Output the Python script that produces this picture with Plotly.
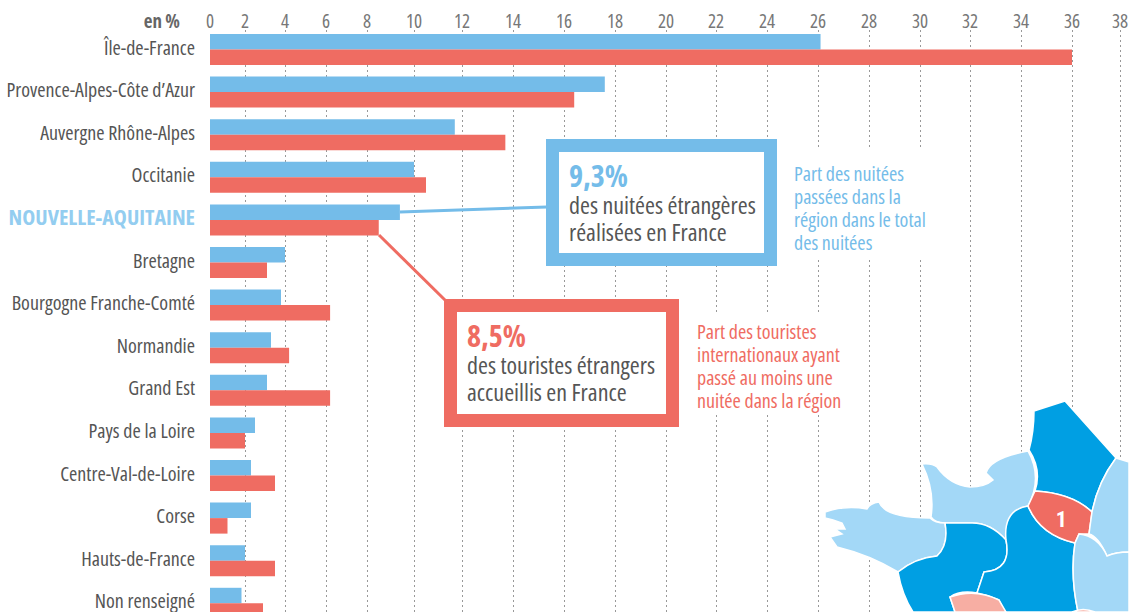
import numpy as np
import plotly.graph_objects as go

# ---- data -----------------------------------------------------------------
REGIONS = ["Île-de-France", "Provence-Alpes-Côte d’Azur", "Auvergne Rhône-Alpes", "Occitanie",
           "NOUVELLE-AQUITAINE", "Bretagne", "Bourgogne Franche-Comté", "Normandie", "Grand Est",
           "Pays de la Loire", "Centre-Val-de-Loire", "Corse", "Hauts-de-France", "Non renseigné"]
NUITEES = [26.1, 17.6, 11.7, 10.0, 9.4, 4.0, 3.8, 3.3, 3.1, 2.5, 2.3, 2.3, 2.0, 1.8]
TOURISTES = [36.0, 16.4, 13.7, 10.5, 8.5, 3.1, 6.2, 4.2, 6.2, 2.0, 3.5, 1.0, 3.5, 2.9]
TICKS = list(range(0, 40, 2))
# the printed axis is not linear: where each tick really falls, in px from the origin
TICK_SCALE = [0, 35, 75, 116, 157, 204, 252, 303, 354, 405, 456, 506, 557, 608, 659, 710, 760, 811, 862, 910]

BLUE = "#74bce9"
RED = "#ef6c62"
GREY = "#555555"
FONT = "Open Sans, Roboto, sans-serif"

def scale(v):
    return np.interp(v, TICKS, TICK_SCALE)

# ---- map outlines (image px) ----------------------------------------------
MAP_DARK = "#009fe3"
MAP_LIGHT = "#a3d8f7"
MAP_PALE = "#f7aea3"
MAP = [
    (MAP_DARK, "M1034,411 L1065,401 L1116,458 Q1098,482 1092,512 Q1072,493 1035,491 Q1042,470 1029,450 Q1034,432 1034,411 Z"),
    (MAP_LIGHT, "M922,464 Q932,463 937,467 Q950,485 970,487 Q985,487 993,480 L986,473 Q990,458 1028,451 Q1043,478 1028,506 Q1005,510 1006,540 Q990,522 970,523 L945,523 Q935,523 931,517 Q935,490 922,464 Z"),
    (MAP_LIGHT, "M825,518 L825,512 Q845,505 867,509 Q870,503 879,502 Q885,518 930,518 Q935,523 945,523 Q949,545 937,556 Q915,558 898,572 Q870,555 837,547 L830,537 L842,534 L835,529 L845,529 L842,523 L833,520 Z"),
    (MAP_DARK, "M898,572 Q915,558 937,556 Q949,545 945,523 L970,523 Q990,522 1006,540 Q1012,570 984,572 L977,593 Q960,590 950,597 L955,612 L913,612 Q902,595 898,572 Z"),
    (MAP_DARK, "M1028,506 Q1040,535 1075,543 Q1070,575 1078,612 L1005,612 L999,600 Q988,595 977,593 L984,572 Q1012,570 1006,540 Q1003,510 1028,506 Z"),
    (RED, "M1035,491 Q1072,493 1092,512 L1089,534 L1079,534 L1075,543 Q1040,535 1028,506 Z"),
    (MAP_LIGHT, "M1116,458 L1129,462 L1129,552 Q1116,552 1107,556 Q1098,536 1089,534 L1092,512 Q1098,482 1116,458 Z"),
    (MAP_LIGHT, "M1079,534 Q1098,536 1107,556 Q1116,552 1129,552 L1129,612 L1078,612 Q1070,575 1075,543 Z"),
    (MAP_PALE, "M950,597 Q975,588 999,600 L1006,612 L955,612 Z"),
    (MAP_PALE, "M1072,612 Q1083,607 1095,612 Z"),
]
CALLOUTS = [  # colour, from (bar end), to (box)
    (BLUE, 3, 400, 212, 547, 207),
    (RED, 3, 379, 235, 446, 301),
]
BOXES = [(BLUE, 546, 139, 777, 266), (RED, 444, 299, 679, 427)]
WHITE_MASKS = [(790, 150, 935, 258), (690, 312, 850, 414)]
TEXTS = [
    ("<b>9,3%</b>", 569, 179, 30, BLUE),
    ("des nuitées étrangères", 569, 208, 24, GREY),
    ("réalisées en France", 569, 235, 24, GREY),
    ("<b>8,5%</b>", 467, 339, 30, RED),
    ("des touristes étrangers", 467, 368, 24, GREY),
    ("accueillis en France", 467, 395, 24, GREY),
    ("Part des nuitées", 794, 176, 20, BLUE),
    ("passées dans la", 794, 199, 20, BLUE),
    ("région dans le total", 794, 222, 20, BLUE),
    ("des nuitées", 794, 245, 20, BLUE),
    ("Part des touristes", 697, 334, 20, RED),
    ("internationaux ayant", 697, 357, 20, RED),
    ("passé au moins une", 697, 380, 20, RED),
    ("nuitée dans la région", 697, 403, 20, RED),
]

# ---- figure ---------------------------------------------------------------
fig = go.Figure()
for name, vals, col in (("Part des nuitées", NUITEES, BLUE), ("Part des touristes", TOURISTES, RED)):
    fig.add_bar(y=REGIONS, x=scale(vals), orientation="h", name=name, marker=dict(color=col, line_width=0),
                customdata=vals, hovertemplate="%{y}: %{customdata}%<extra></extra>")

labels = [f'<b><span style="color:#93cdf0;font-size:22px">{r}</span></b>' if r.isupper() else r for r in REGIONS]
TOP, PITCH, FIRST = 30, 42.6, 49.5
fig.update_layout(
    width=1129, height=612, autosize=False, showlegend=False, barmode="group", bargap=0.272, bargroupgap=0,
    margin=dict(l=210, r=0, t=TOP, b=0, pad=0), paper_bgcolor="white", plot_bgcolor="white",
    font=dict(family=FONT, color=GREY),
    xaxis=dict(side="top", range=[0, 919], tickmode="array", tickvals=TICK_SCALE, ticktext=[str(t) for t in TICKS],
               tickfont=dict(size=19, color="#777777"), ticks="", showline=False, zeroline=False, showgrid=True,
               gridcolor="#999999", griddash="1.5px,3.5px", gridwidth=1, ticklabelstandoff=-3, automargin=False,
               ticklabeloverflow="allow"),
    yaxis=dict(type="category", categoryorder="array", categoryarray=REGIONS,
               range=[(612 - FIRST) / PITCH, -(FIRST - TOP) / PITCH],
               tickmode="array", tickvals=REGIONS, ticktext=labels, tickfont=dict(size=20, color=GREY),
               ticks="outside", ticklen=10, tickcolor="rgba(0,0,0,0)", showline=False, showgrid=False, zeroline=False,
               automargin=False, ticklabelshift=2, ticklabeloverflow="allow"),
    xaxis2=dict(overlaying="x", range=[210, 1129], visible=False, anchor="y2", domain=[0, 1]),
    yaxis2=dict(overlaying="y", range=[612, TOP], visible=False, anchor="x2", domain=[0, 1]),
)

def main_x(px):
    return px - 210

def main_y(py):
    return (py - FIRST) / PITCH

shapes = []
for x0, y0, x1, y1 in WHITE_MASKS:
    shapes.append(dict(type="rect", xref="x", yref="y", x0=main_x(x0), x1=main_x(x1), y0=main_y(y0), y1=main_y(y1),
                       fillcolor="white", line_width=0, layer="between"))
for col, w, x0, y0, x1, y1 in CALLOUTS:
    shapes.append(dict(type="line", xref="x", yref="y", x0=main_x(x0), y0=main_y(y0), x1=main_x(x1), y1=main_y(y1),
                       line=dict(color=col, width=w), layer="between"))
for col, x0, y0, x1, y1 in BOXES:
    shapes.append(dict(type="rect", xref="x", yref="y", x0=main_x(x0 + 6.5), y0=main_y(y0 + 6.5),
                       x1=main_x(x1 - 6.5), y1=main_y(y1 - 6.5),
                       fillcolor="white", line=dict(color=col, width=13), layer="between"))
for col, path in MAP:
    shapes.append(dict(type="path", xref="x2", yref="y2", path=path, fillcolor=col, line=dict(color="white", width=1.5)))
fig.update_layout(shapes=shapes)

# text placed as left-anchored text points on the pixel-like overlay axes
fig.add_scatter(x=[t[1] for t in TEXTS], y=[t[2] for t in TEXTS], text=[t[0] for t in TEXTS],
                xaxis="x2", yaxis="y2", mode="text", textposition="middle right", cliponaxis=False, hoverinfo="skip",
                textfont=dict(family=FONT, size=[t[3] for t in TEXTS], color=[t[4] for t in TEXTS]))
fig.update_layout(annotations=[
    dict(text="<b>en %</b>", x=-23 / 919, y=1 + 9 / 582, xref="paper", yref="paper", xanchor="right", yanchor="middle",
         showarrow=False, font=dict(size=19, color="#666666", family=FONT)),
    dict(text="<b>1</b>", x=1061, y=519, xref="x2", yref="y2", showarrow=False,
         font=dict(size=22, color="white", family="Roboto")),
])
fig.write_html("out.html", config=dict(displayModeBar=False), post_script=(
    "document.body.style.margin='0';"
    "var s=document.createElement('style');s.textContent='svg text{font-stretch:82%}';document.head.appendChild(s);"
))
